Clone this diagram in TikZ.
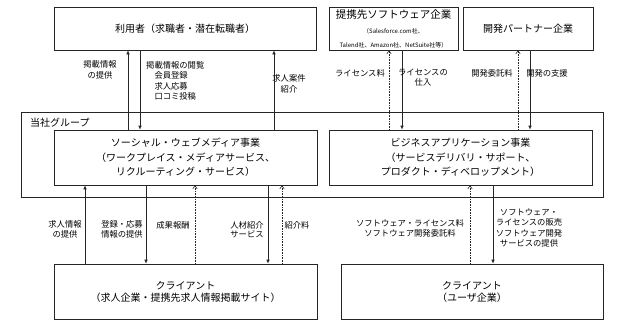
\documentclass[tikz,border=0pt]{standalone}
\usepackage{fontspec}
\setmainfont{Noto Sans CJK JP}
\usepackage{tikz}
\usetikzlibrary{arrows.meta}

\begin{document}
\begin{tikzpicture}[x=1pt, y=-1pt,
  box/.style={draw=black!85, line width=0.7pt, inner sep=0pt, align=center,
    font=\fontsize{10}{14.5}\selectfont},
  lbl/.style={inner sep=0pt, align=center, font=\fontsize{8.3}{11}\selectfont},
  sarr/.style={draw=black!85, line width=0.7pt, -{Latex[length=4pt,width=3.6pt]}},
  darr/.style={draw=black!85, line width=0.6pt, densely dotted, -{Straight Barb[length=3pt,width=4.5pt]}}]
\useasboundingbox (0,0) rectangle (621,324);

% top row
\node[box, minimum width=262pt, minimum height=43pt] (user) at (185,28.5) {利用者（求職者・潜在転職者）};
\node[box, minimum width=129pt, minimum height=43pt] (alliance) at (393.5,28.5)
  {{\fontsize{10.5}{12}\selectfont 提携先ソフトウェア企業}\\[1pt]
   {\fontsize{6}{7}\selectfont （Salesforce.com社、}\\[-1pt]
   {\fontsize{6}{7}\selectfont Talend社、Amazon社、NetSuite社等）}};
\node[box, minimum width=130pt, minimum height=43pt] (devpartner) at (528,28.5) {開発パートナー企業};

% group
\node[box, minimum width=582pt, minimum height=85pt] (group) at (312,154.5) {};
\node[anchor=west, inner sep=0pt, font=\fontsize{10}{12}\selectfont] (grouplbl) at (30,123) {当社グループ};
\node[box, minimum width=263pt, minimum height=55pt] (social) at (185.5,157.5)
  {ソーシャル・ウェブメディア事業\\（ワークプレイス・メディアサービス、\\リクルーティング・サービス）};
\node[box, minimum width=263pt, minimum height=55pt] (bizapp) at (460.5,157.5)
  {ビジネスアプリケーション事業\\（サービスデリバリ・サポート、\\プロダクト・ディベロップメント）};

% bottom row
\node[box, minimum width=263pt, minimum height=55pt, font=\fontsize{10}{12}\selectfont] (client1) at (185.5,291.5)
  {クライアント\\（求人企業・提携先求人情報掲載サイト）};
\node[box, minimum width=262pt, minimum height=55pt, font=\fontsize{10}{12}\selectfont] (client2) at (472,291.5)
  {クライアント\\（ユーザ企業）};

% upper flows
\draw[sarr] (social.north -| 128,0) -- (user.south -| 128,0);
\draw[sarr] (user.south -| 140,0) -- (social.north -| 140,0);
\draw[sarr] (social.north -| 274,0) -- (user.south -| 274,0);
\draw[darr] (bizapp.north -| 389,0) -- (alliance.south -| 389,0);
\draw[sarr] (alliance.south -| 402,0) -- (bizapp.north -| 402,0);
\draw[darr] (bizapp.north -| 518,0) -- (devpartner.south -| 518,0);
\draw[sarr] (devpartner.south -| 530,0) -- (bizapp.north -| 530,0);

\node[lbl] (l1) at (100,70) {掲載情報\\の提供};
\node[lbl, align=left, anchor=north west, font=\fontsize{8.3}{10.3}\selectfont] (l2) at (146,61.5)
  {掲載情報の閲覧\\\hspace{1em}会員登録\\\hspace{1em}求人応募\\\hspace{1em}口コミ投稿};
\node[lbl] (l3) at (289,83.5) {求人案件\\紹介};
\node[lbl] (l4) at (360,73) {ライセンス料};
\node[lbl, font=\fontsize{8.3}{9.5}\selectfont] (l5) at (423,77.5) {ライセンスの\\仕入};
\node[lbl] (l6) at (492,73) {開発委託料};
\node[lbl] (l7) at (547,73) {開発の支援};

% lower flows
\draw[sarr] (client1.north -| 85,0) -- (social.south -| 85,0);
\draw[sarr] (social.south -| 146,0) -- (client1.north -| 146,0);
\draw[darr] (client1.north -| 195,0) -- (social.south -| 195,0);
\draw[sarr] (social.south -| 268,0) -- (client1.north -| 268,0);
\draw[darr] (client1.north -| 282,0) -- (social.south -| 282,0);
\draw[darr] (client2.north -| 470,0) -- (bizapp.south -| 470,0);
\draw[sarr] (bizapp.south -| 493,0) -- (client2.north -| 493,0);

\node[lbl, font=\fontsize{8.3}{9.5}\selectfont] (l8) at (65,229.5) {求人情報\\の提供};
\node[lbl, font=\fontsize{8.3}{9.5}\selectfont] (l9) at (122,229.5) {登録・応募\\情報の提供};
\node[lbl] (l10) at (173,225) {成果報酬};
\node[lbl, font=\fontsize{8.3}{9.5}\selectfont] (l11) at (247,229.5) {人材紹介\\サービス};
\node[lbl] (l12) at (297,225) {紹介料};
\node[lbl, font=\fontsize{8.3}{10}\selectfont] (l13) at (410,228) {ソフトウェア・ライセンス料\\ソフトウェア開発委託料};
\node[lbl, font=\fontsize{8.3}{10.3}\selectfont] (l14) at (529,228) {ソフトウェア・\\ライセンスの販売\\ソフトウェア開発\\サービスの提供};
\end{tikzpicture}
\end{document}
